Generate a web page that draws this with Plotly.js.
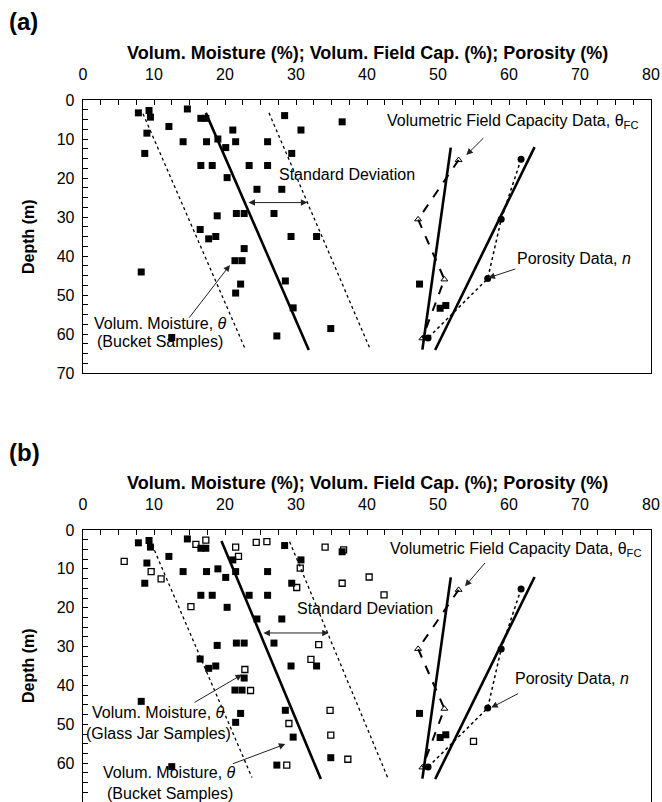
<!DOCTYPE html>
<html>
<head>
<meta charset="utf-8">
<script src="https://cdn.plot.ly/plotly-3.0.1.min.js"></script>
<style>html,body{margin:0;padding:0;background:#fff;}#chart{width:662px;height:802px;}</style>
</head>
<body>
<div id="chart"></div>
<script>
// ---------------- DATA ----------------
// Bucket samples (filled squares): volumetric moisture (%) and depth (m)
const bucketMoisture = [7.8, 9.3, 9.5, 14.7, 16.6, 17.3, 12.1, 9.0, 28.4, 30.7, 21.1, 14.1, 17.4, 19.0, 21.5, 26.0, 20.1, 8.7, 29.4, 16.6, 18.2, 23.4, 26.0, 20.3, 24.5, 28.0, 21.6, 22.7, 26.9, 18.9, 16.5, 17.7, 18.7, 29.3, 32.9, 22.7, 21.4, 22.4, 8.2, 28.5, 22.2, 21.5, 29.6, 34.9, 27.3, 12.5, 36.5, 47.4, 50.3, 51.1];
const bucketDepth    = [3.3, 2.7, 4.4, 2.3, 4.7, 4.7, 6.8, 8.5, 4.0, 7.7, 7.7, 10.7, 10.7, 10.0, 10.7, 10.7, 12.2, 13.7, 13.7, 16.8, 16.8, 16.8, 16.8, 19.9, 22.9, 22.9, 29.1, 29.1, 29.1, 29.7, 33.2, 35.6, 35.0, 35.0, 35.0, 38.1, 41.2, 41.2, 44.1, 46.4, 47.2, 49.5, 53.3, 58.6, 60.5, 60.9, 5.6, 47.2, 53.4, 52.7];
// Glass jar samples (open squares, panel b)
const jarMoisture = [5.8, 9.6, 11.0, 15.9, 17.3, 21.5, 21.9, 24.4, 25.9, 34.1, 15.2, 30.6, 30.1, 33.2, 32.1, 22.8, 23.6, 34.8, 29.0, 34.9, 28.7, 36.7, 36.5, 40.3, 42.4, 37.3, 55.0];
const jarDepth    = [8.1, 10.7, 12.6, 3.7, 2.6, 4.4, 6.8, 3.2, 3.0, 4.4, 19.7, 9.8, 14.8, 29.5, 33.3, 35.9, 41.3, 46.4, 49.8, 52.8, 60.5, 5.1, 13.7, 12.1, 16.7, 59.0, 54.4];
// Volumetric field capacity data (open triangles)
const fcValues = [52.9, 47.2, 50.9, 47.8];
const fcDepth  = [15.4, 30.6, 46.0, 61.1];
// Porosity data (filled circles)
const porosityValues = [61.7, 58.9, 57.0, 48.6];
const porosityDepth  = [15.2, 30.6, 45.8, 61.0];
// Fitted trend lines (end points)
const moistFitA = [17.3, 31.8], moistFitADepth = [3.3, 64.1];
const sdLowA    = [8.45, 22.9], sdLowADepth   = [3.5, 64.1];
const sdHighA   = [26.2, 40.5], sdHighADepth  = [3.3, 64.1];
const moistFitB = [19.5, 33.5], moistFitBDepth = [2.8, 64.1];
const sdLowB    = [9.4, 23.8],  sdLowBDepth   = [2.4, 63.7];
const sdHighB   = [29.1, 43.0], sdHighBDepth  = [3.0, 64.1];
const fcFit     = [51.8, 47.8], fcFitDepth    = [12.2, 64.0];
const porFit    = [63.6, 49.6], porFitDepth   = [12.1, 64.1];
// Axis ticks
const xTicks = [0, 10, 20, 30, 40, 50, 60, 70, 80];
const yTicks = [0, 10, 20, 30, 40, 50, 60, 70];

// ---------------- CHART ----------------
const FONT = 'Liberation Sans, Arial, Helvetica, sans-serif';

function panelTraces(xa, ya, isB) {
  const t = [];
  const mf = isB ? moistFitB : moistFitA, mfd = isB ? moistFitBDepth : moistFitADepth;
  const sl = isB ? sdLowB : sdLowA, sld = isB ? sdLowBDepth : sdLowADepth;
  const sh = isB ? sdHighB : sdHighA, shd = isB ? sdHighBDepth : sdHighADepth;
  t.push({x: sl, y: sld, mode: 'lines', line: {color: 'black', width: 1.3, dash: 'dot'}, xaxis: xa, yaxis: ya});
  t.push({x: sh, y: shd, mode: 'lines', line: {color: 'black', width: 1.3, dash: 'dot'}, xaxis: xa, yaxis: ya});
  t.push({x: mf, y: mfd, mode: 'lines', line: {color: 'black', width: 2.6}, xaxis: xa, yaxis: ya});
  t.push({x: fcFit, y: fcFitDepth, mode: 'lines', line: {color: 'black', width: 2.6}, xaxis: xa, yaxis: ya});
  t.push({x: porFit, y: porFitDepth, mode: 'lines', line: {color: 'black', width: 2.6}, xaxis: xa, yaxis: ya});
  t.push({x: fcValues, y: fcDepth, mode: 'lines+markers', line: {color: 'black', width: 2, dash: 'dash'},
          marker: {symbol: 'triangle-up-open', size: 6, color: 'black', line: {width: 1}}, xaxis: xa, yaxis: ya});
  t.push({x: porosityValues, y: porosityDepth, mode: 'lines+markers', line: {color: 'black', width: 1.5, dash: 'dot'},
          marker: {symbol: 'circle', size: 7, color: 'black'}, xaxis: xa, yaxis: ya});
  if (isB) {
    t.push({x: jarMoisture, y: jarDepth, mode: 'markers',
            marker: {symbol: 'square-open', size: 6, color: 'black', line: {width: 1.3}}, xaxis: xa, yaxis: ya});
  }
  t.push({x: bucketMoisture, y: bucketDepth, mode: 'markers',
          marker: {symbol: 'square', size: 7, color: 'black'}, xaxis: xa, yaxis: ya});
  return t;
}

// invisible helper traces so that the free label axes are drawn
function axisHelper(xa, ya) {
  return {x: xTicks, y: xTicks.map(() => null), mode: 'markers', marker: {opacity: 0}, hoverinfo: 'skip', xaxis: xa, yaxis: ya};
}

const data = panelTraces('x', 'y', false)
  .concat(panelTraces('x2', 'y2', true))
  .concat([axisHelper('x3', 'y'), axisHelper('x4', 'y2')]);

// frame axis (ticks only, no labels)
function xFrame(anchor) {
  return {
    domain: [0, 1], range: [0, 80], side: 'top', anchor: anchor,
    tickmode: 'array', tickvals: xTicks,
    ticks: 'inside', ticklen: 5, tickwidth: 1, tickcolor: 'black',
    minor: {tickmode: 'linear', tick0: 0, dtick: 2.5, ticks: 'inside', ticklen: 5, tickwidth: 1, tickcolor: 'black', showgrid: false},
    showline: true, linecolor: 'black', linewidth: 1.3, mirror: true,
    showgrid: false, zeroline: false, showticklabels: false
  };
}
// label axis (free, placed above the frame, labels only)
function xLabels(overlay, pos) {
  return {
    overlaying: overlay, anchor: 'free', position: pos, side: 'top',
    range: [0, 80], tickmode: 'array', tickvals: xTicks, ticktext: xTicks.map(String),
    ticks: '', showline: false, showgrid: false, zeroline: false,
    tickfont: {family: FONT, size: 16, color: 'black'}
  };
}
function yAxis(anchor, domain) {
  return {
    domain: domain, range: [70, 0], anchor: anchor,
    tickmode: 'array', tickvals: yTicks, ticktext: yTicks.map(String),
    ticks: 'inside', ticklen: 5, tickwidth: 1, tickcolor: 'black',
    minor: {tickmode: 'linear', tick0: 0, dtick: 2.5, ticks: 'inside', ticklen: 5, tickwidth: 1, tickcolor: 'black', showgrid: false},
    showline: true, linecolor: 'black', linewidth: 1.3, mirror: true,
    showgrid: false, zeroline: false,
    tickfont: {family: FONT, size: 16, color: 'black'},
    ticklabelstandoff: 4
  };
}

const txtFont = {family: FONT, size: 16, color: 'black'};
function label(xr, yr, x, y, text, anchor) {
  return {xref: xr, yref: yr, x: x, y: y, text: text, showarrow: false, xanchor: anchor || 'left', yanchor: 'middle', font: txtFont};
}
function arrow(xr, yr, x, y, ax, ay, both) {
  return {xref: xr, yref: yr, axref: xr, ayref: yr, x: x, y: y, ax: ax, ay: ay, text: '', showarrow: true,
          arrowhead: 2, arrowsize: 1.3, arrowwidth: 1, arrowcolor: '#222', standoff: 0, startstandoff: 0,
          arrowside: both ? 'end+start' : 'end', startarrowhead: 2, startarrowsize: 1.3};
}

const annotations = [
  // panel labels and titles
  {xref: 'paper', yref: 'paper', x: -0.134, y: 1 - 22/802, text: '<b>(a)</b>', showarrow: false, xanchor: 'left', yanchor: 'middle', font: {family: FONT, size: 24, color: 'black'}},
  {xref: 'paper', yref: 'paper', x: -0.134, y: 1 - 452/802, text: '<b>(b)</b>', showarrow: false, xanchor: 'left', yanchor: 'middle', font: {family: FONT, size: 24, color: 'black'}},
  {xref: 'paper', yref: 'paper', x: 0.5, y: 1 - 53/802, text: '<b>Volum. Moisture (%); Volum. Field Cap. (%); Porosity (%)</b>', showarrow: false, xanchor: 'center', yanchor: 'middle', font: {family: FONT, size: 18, color: 'black'}},
  {xref: 'paper', yref: 'paper', x: 0.5, y: 1 - 483/802, text: '<b>Volum. Moisture (%); Volum. Field Cap. (%); Porosity (%)</b>', showarrow: false, xanchor: 'center', yanchor: 'middle', font: {family: FONT, size: 18, color: 'black'}},
  {xref: 'paper', yref: 'paper', x: (28 - 83)/568, y: 1 - 237/802, text: '<b>Depth (m)</b>', textangle: -90, showarrow: false, xanchor: 'center', yanchor: 'middle', font: {family: FONT, size: 16, color: 'black'}},
  {xref: 'paper', yref: 'paper', x: (28 - 83)/568, y: 1 - 666/802, text: '<b>Depth (m)</b>', textangle: -90, showarrow: false, xanchor: 'center', yanchor: 'middle', font: {family: FONT, size: 16, color: 'black'}},
  // panel (a) labels
  label('x', 'y', 42.5, 5.6, 'Volumetric Field Capacity Data, θ<sub>FC</sub>'),
  label('x', 'y', 27.3, 19.2, 'Standard Deviation'),
  label('x', 'y', 60.8, 40.6, 'Porosity Data, <i>n</i>'),
  label('x', 'y', 10.9, 57.2, 'Volum. Moisture, <i>θ</i>', 'center'),
  label('x', 'y', 10.9, 62.0, '(Bucket Samples)', 'center'),
  arrow('x', 'y', 54.0, 14.1, 56.6, 9.4),
  arrow('x', 'y', 57.1, 45.6, 61.1, 43.2),
  arrow('x', 'y', 20.7, 42.3, 14.8, 56.2),
  arrow('x', 'y', 31.6, 26.3, 23.1, 26.3, true),
  // panel (b) labels
  label('x2', 'y2', 42.9, 5.0, 'Volumetric Field Capacity Data, θ<sub>FC</sub>'),
  label('x2', 'y2', 29.9, 20.3, 'Standard Deviation'),
  label('x2', 'y2', 60.6, 38.3, 'Porosity Data, <i>n</i>'),
  label('x2', 'y2', 10.7, 47.0, 'Volum. Moisture, <i>θ</i>', 'center'),
  label('x2', 'y2', 10.7, 52.3, '(Glass Jar Samples)', 'center'),
  label('x2', 'y2', 12.2, 62.4, 'Volum. Moisture, <i>θ</i>', 'center'),
  label('x2', 'y2', 12.2, 67.8, '(Bucket Samples)', 'center'),
  arrow('x2', 'y2', 53.8, 14.5, 56.8, 8.1),
  arrow('x2', 'y2', 57.5, 45.7, 61.5, 41.9),
  arrow('x2', 'y2', 22.4, 37.2, 15.5, 44.6),
  arrow('x2', 'y2', 28.5, 55.1, 20.9, 60.3),
  arrow('x2', 'y2', 34.6, 26.5, 25.2, 26.5, true)
];

const layout = {
  width: 662, height: 802,
  margin: {l: 83, r: 11, t: 0, b: 0},
  paper_bgcolor: 'white', plot_bgcolor: 'white',
  showlegend: false,
  font: {family: FONT, color: 'black'},
  xaxis: xFrame('y'),
  yaxis: yAxis('x', [1 - 373/802, 1 - 100/802]),
  xaxis2: xFrame('y2'),
  yaxis2: yAxis('x2', [0, 1 - 530/802]),
  xaxis3: xLabels('x', 1 - 83/802),
  xaxis4: xLabels('x2', 1 - 513/802),
  annotations: annotations
};

Plotly.newPlot('chart', data, layout, {staticPlot: true, displayModeBar: false});
</script>
</body>
</html>
